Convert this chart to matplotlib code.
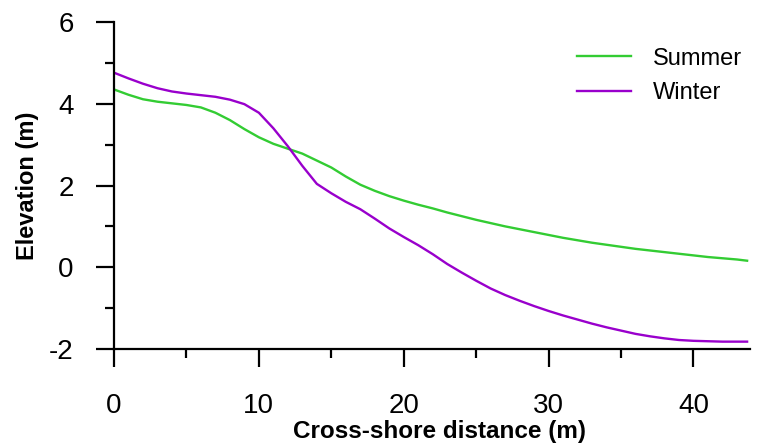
import matplotlib
matplotlib.use("Agg")
import matplotlib.pyplot as plt
from matplotlib.ticker import MultipleLocator

# Beach profiles, elevation (m) against cross-shore distance (m)
distance = [0, 1, 2, 3, 4, 5, 6, 7, 8, 9, 10, 11, 12, 13, 14, 15, 16, 17, 18,
            19, 20, 21, 22, 23, 24, 25, 26, 27, 28, 29, 30, 31, 32, 33, 34,
            35, 36, 37, 38, 39, 40, 41, 42, 43, 43.7]

summer = [4.35, 4.22, 4.11, 4.05, 4.01, 3.97, 3.91, 3.78, 3.60, 3.38, 3.18,
          3.02, 2.90, 2.78, 2.61, 2.44, 2.22, 2.02, 1.87, 1.74, 1.63, 1.53,
          1.44, 1.34, 1.25, 1.16, 1.08, 1.00, 0.93, 0.86, 0.79, 0.72, 0.66,
          0.60, 0.55, 0.50, 0.45, 0.41, 0.37, 0.33, 0.29, 0.25, 0.22, 0.19,
          0.16]

winter = [4.76, 4.62, 4.49, 4.38, 4.30, 4.25, 4.21, 4.17, 4.10, 3.99, 3.78,
          3.40, 2.96, 2.48, 2.04, 1.81, 1.60, 1.42, 1.19, 0.95, 0.74, 0.54,
          0.32, 0.08, -0.13, -0.33, -0.52, -0.68, -0.82, -0.95, -1.07, -1.18,
          -1.28, -1.38, -1.47, -1.55, -1.63, -1.69, -1.74, -1.78, -1.80,
          -1.81, -1.82, -1.82, -1.82]

plt.rcParams["font.family"] = ["Liberation Sans", "DejaVu Sans"]
plt.rcParams["axes.unicode_minus"] = False

fig = plt.figure(figsize=(7.58, 4.48), dpi=100)
ax = fig.add_axes([114 / 758, 1 - 349 / 448, 636 / 758, 327 / 448])

ax.plot(distance, summer, color="#33cc33", lw=1.7, label="Summer")
ax.plot(distance, winter, color="#9900cc", lw=1.7, label="Winter")

ax.set_xlim(0, 43.9)
ax.set_ylim(-2, 6)
ax.xaxis.set_major_locator(MultipleLocator(10))
ax.xaxis.set_minor_locator(MultipleLocator(5))
ax.yaxis.set_major_locator(MultipleLocator(2))
ax.yaxis.set_minor_locator(MultipleLocator(1))

for side in ("top", "right"):
    ax.spines[side].set_visible(False)
for side in ("left", "bottom"):
    ax.spines[side].set_linewidth(1.6)

ax.tick_params(which="major", direction="out", length=13, width=1.6,
               labelsize=20, pad=16)
ax.tick_params(axis="x", which="major", pad=19)
ax.tick_params(which="minor", direction="out", length=6.5, width=1.6)

ax.set_xlabel("Cross-shore distance (m)", fontsize=17.5, fontweight="bold")
ax.xaxis.set_label_coords(0.512, -0.218)
ax.xaxis.label.set_va("top")
ax.set_ylabel("Elevation (m)", fontsize=17, fontweight="bold", labelpad=7)

ax.legend(loc="center left", frameon=False, fontsize=17,
          handlelength=2.3, handletextpad=0.9, labelspacing=0.55,
          borderpad=0, borderaxespad=0,
          bbox_to_anchor=(577 / 758, 1 - 76 / 448),
          bbox_transform=fig.transFigure)

fig.savefig("out.png", dpi=100)
